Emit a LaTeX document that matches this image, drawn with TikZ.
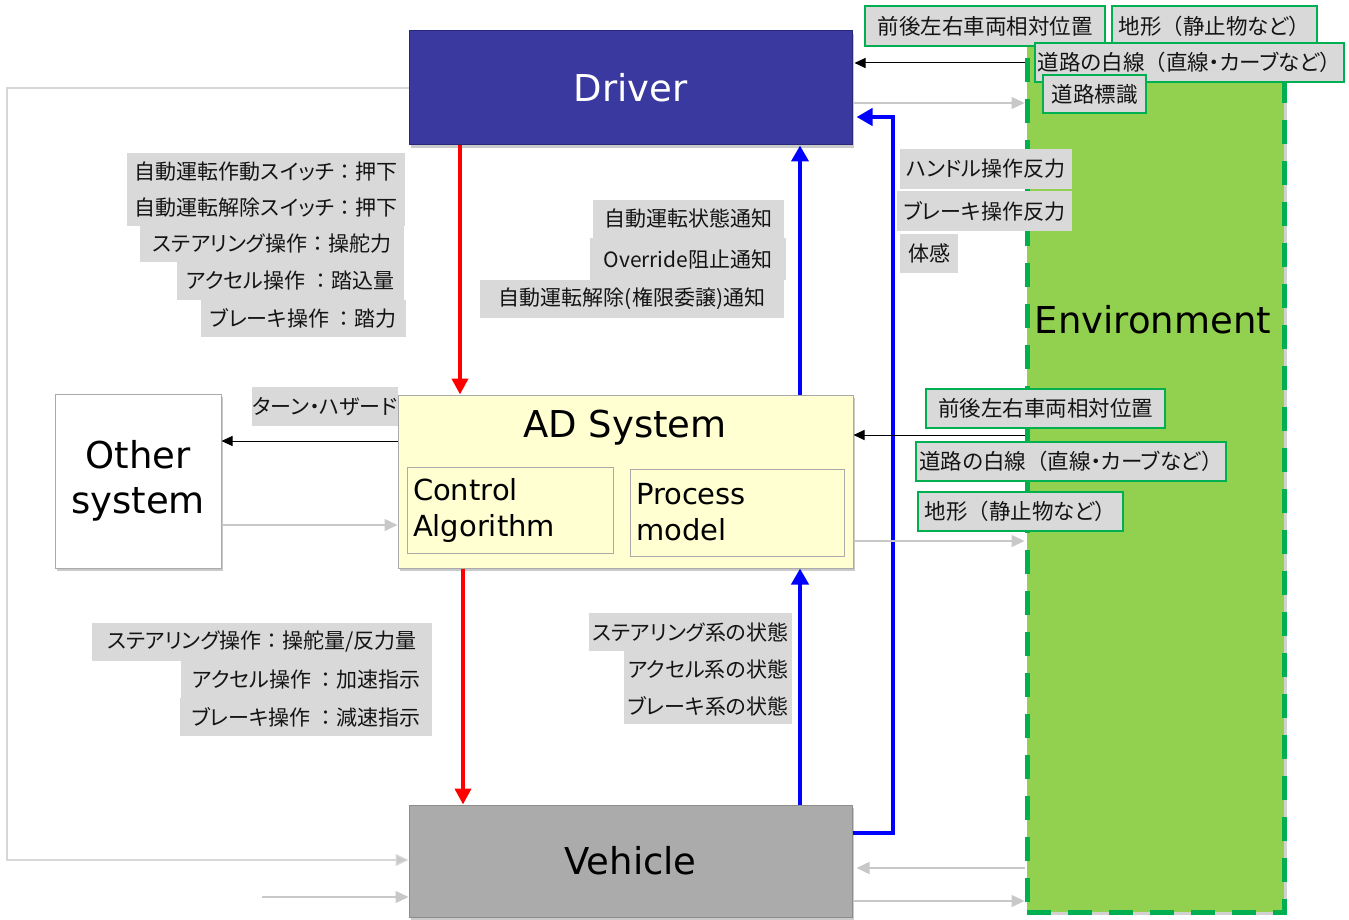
\documentclass[tikz,border=0pt]{standalone}
\usepackage{fontspec}
\setmainfont{DejaVu Sans}
\newfontfamily\jp[RawFeature=+palt]{Noto Sans CJK JP}
\newfontfamily\jpfull{Noto Sans CJK JP}
\newcommand\fw[1]{{\jpfull #1}}
\usetikzlibrary{arrows.meta,shadows}
\definecolor{driverblue}{RGB}{57,57,160}
\definecolor{driveredge}{RGB}{40,40,120}
\definecolor{adyellow}{RGB}{255,255,210}
\definecolor{vehgray}{RGB}{171,171,171}
\definecolor{envgreen}{RGB}{146,208,80}
\definecolor{dashgreen}{RGB}{0,176,80}
\definecolor{lblgray}{RGB}{217,217,217}
\definecolor{arrgray}{RGB}{200,200,200}
\definecolor{loopgray}{RGB}{215,215,215}
\definecolor{boxedge}{RGB}{170,170,170}
\definecolor{txt}{RGB}{20,20,20}
\tikzset{
  shad/.style={drop shadow={shadow xshift=2pt,shadow yshift=-3pt,opacity=.35,fill=black!60}},
  bigbox/.style={inner sep=0pt, font=\fontsize{37}{45}\selectfont, align=center, shad},
  innerbox/.style={draw=boxedge, line width=1pt, fill=adyellow, inner sep=6pt, align=left,
     font=\fontsize{29}{36}\selectfont, text=black},
  lbl/.style={fill=lblgray, inner sep=0pt, font=\jp\fontsize{21}{25}\selectfont, text=txt},
  glbl/.style={lbl, draw=dashgreen, line width=1.3pt, font=\jp\fontsize{21.5}{25}\selectfont},
  redarrow/.style={draw=red, line width=4pt, -{Triangle[length=16pt,width=16pt]}},
  bluearrow/.style={draw=blue, line width=4.5pt, -{Triangle[length=16pt,width=17pt]}},
  blackarrow/.style={draw=black, line width=1pt, -{Triangle[length=11pt,width=10pt]}},
  grayarrow/.style={draw=arrgray, line width=1.5pt, -{Triangle[length=13pt,width=12pt]}},
  looparrow/.style={draw=loopgray, line width=1.3pt, -{Triangle[length=13pt,width=12pt,fill=arrgray]}},
}
\begin{document}
\begin{tikzpicture}[x=1pt,y=-1pt]
\useasboundingbox (0,0) rectangle (1349,920);

% Environment
\node[draw=dashgreen, fill=envgreen, line width=5pt, dash pattern=on 24pt off 17pt,
      minimum width=257pt, minimum height=867pt, inner sep=0pt,
      drop shadow={shadow xshift=3pt,shadow yshift=-3pt,opacity=.3,fill=black!60}]
      (env) at (1155.5,478.5) {};
\node[font=\fontsize{37}{45}\selectfont, text=black] (envtxt) at (1153,320) {Environment};

% Main boxes
\node[bigbox, draw=driveredge, fill=driverblue, text=white, line width=1pt,
      minimum width=443pt, minimum height=114pt] (driver) at (630.5,88) {Driver};
\node[bigbox, draw=boxedge, fill=adyellow, line width=1pt,
      minimum width=455pt, minimum height=173pt] (ad) at (625.5,481.5) {};
\node[font=\fontsize{37}{45}\selectfont] (adtitle) at (625,428) {AD System};
\node[innerbox, minimum width=206pt, minimum height=86pt, text width=194pt] (ctrl) at (510,510) {Control\\Algorithm};
\node[innerbox, minimum width=214pt, minimum height=87pt, text width=202pt] (proc) at (737,512.5) {Process\\model};
\node[bigbox, draw=boxedge, fill=white, line width=1pt,
      minimum width=166pt, minimum height=174pt] (other) at (138,481) {Other\\system};
\node[bigbox, draw=black!45, fill=vehgray, line width=1pt,
      minimum width=443pt, minimum height=112pt] (vehicle) at (630.5,861) {Vehicle};

% helper coordinates
\coordinate (xr1) at (460,0);
\coordinate (xb1) at (800,0);
\coordinate (xr2) at (463,0);
\coordinate (xbl) at (893,0);
\coordinate (yl63) at (0,63);
\coordinate (yl103) at (0,103);
\coordinate (yl117) at (0,117);
\coordinate (yl833) at (0,833);
\coordinate (yl441) at (0,441);
\coordinate (yl525) at (0,525);
\coordinate (yl435) at (0,435);
\coordinate (yl541) at (0,541);
\coordinate (yl868) at (0,868);
\coordinate (yl901) at (0,901);
\coordinate (yl860) at (0,860);
\coordinate (lx) at (7,0);
\coordinate (gs) at (262,897);

% thick arrows
\draw[redarrow] (xr1 |- driver.south) -- (xr1 |- ad.north);
\draw[bluearrow] (xb1 |- ad.north) -- (xb1 |- driver.south);
\draw[redarrow] (xr2 |- ad.south) -- (xr2 |- vehicle.north);
\draw[bluearrow] (xb1 |- vehicle.north) -- (xb1 |- ad.south);
\draw[bluearrow] (vehicle.east |- yl833) -- (xbl |- yl833) -- (xbl |- yl117) -- ([xshift=4pt]driver.east |- yl117);

% thin arrows
\draw[blackarrow] (env.west |- yl63) -- ([xshift=2pt]driver.east |- yl63);
\draw[grayarrow] (driver.east |- yl103) -- (env.west |- yl103);
\draw[blackarrow] (ad.west |- yl441) -- (other.east |- yl441);
\draw[grayarrow] (other.east |- yl525) -- (ad.west |- yl525);
\draw[blackarrow] (env.west |- yl435) -- (ad.east |- yl435);
\draw[grayarrow] (ad.east |- yl541) -- (env.west |- yl541);
\draw[grayarrow] (env.west |- yl868) -- ([xshift=4pt]vehicle.east |- yl868);
\draw[grayarrow] (vehicle.east |- yl901) -- (env.west |- yl901);
\draw[looparrow] (driver.west) -- (lx |- driver.west) -- (lx |- yl860) -- (vehicle.west |- yl860);
\draw[grayarrow] (gs) -- (vehicle.west |- gs);

% labels: driver -> AD
\node[lbl, minimum width=278pt, minimum height=37pt] (l1) at (266,172) {自動運転作動スイッチ\fw{：}押下};
\node[lbl, minimum width=278pt, minimum height=36pt] (l2) at (266,208) {自動運転解除スイッチ\fw{：}押下};
\node[lbl, minimum width=264pt, minimum height=36pt] (l3) at (272,244) {ステアリング操作\fw{：}操舵力};
\node[lbl, minimum width=227pt, minimum height=38pt] (l4) at (290.5,281) {アクセル操作 \fw{：}踏込量};
\node[lbl, minimum width=205pt, minimum height=37pt] (l5) at (303.5,318.5) {ブレーキ操作 \fw{：}踏力};

% AD -> driver
\node[lbl, minimum width=191pt, minimum height=38pt] (m1) at (688.5,219) {自動運転状態通知};
\node[lbl, minimum width=196pt, minimum height=42pt] (m2) at (688,259) {Override阻止通知};
\node[lbl, minimum width=304pt, minimum height=38pt] (m3) at (632,299) {自動運転解除(権限委譲)通知};

% vehicle -> driver
\node[lbl, minimum width=172pt, minimum height=40pt] (r1) at (986,169) {ハンドル操作反力};
\node[lbl, minimum width=175pt, minimum height=40pt] (r2) at (984.5,211) {ブレーキ操作反力};
\node[lbl, minimum width=58pt, minimum height=39pt] (r3) at (929,253.5) {体感};

% AD -> other
\node[lbl, minimum width=146pt, minimum height=39pt] (tl) at (325,406.5) {ターン・ハザード};

% AD -> vehicle
\node[lbl, minimum width=340pt, minimum height=38pt] (b1) at (262,642) {ステアリング操作\fw{：}操舵量/反力量};
\node[lbl, minimum width=251pt, minimum height=37pt] (b2) at (306.5,679.5) {アクセル操作 \fw{：}加速指示};
\node[lbl, minimum width=252pt, minimum height=38pt] (b3) at (306,717) {ブレーキ操作 \fw{：}減速指示};

% vehicle -> AD
\node[lbl, minimum width=203pt, minimum height=38pt] (s1) at (690.5,632) {ステアリング系の状態};
\node[lbl, minimum width=168pt, minimum height=37pt] (s2) at (708,669.5) {アクセル系の状態};
\node[lbl, minimum width=168pt, minimum height=36pt] (s3) at (708,706) {ブレーキ系の状態};

% environment -> driver
\node[glbl, minimum width=240pt, minimum height=40pt] (g1) at (985,26) {前後左右車両相対位置};
\node[glbl, minimum width=205pt, minimum height=40pt] (g2) at (1214.5,26) {地形\fw{（}静止物など\fw{）}};
\node[glbl, minimum width=309pt, minimum height=39pt] (g3) at (1189.5,62.5) {道路の白線\fw{（}直線・カーブなど\fw{）}};
\node[glbl, minimum width=103pt, minimum height=38pt] (g4) at (1094.5,94) {道路標識};

% environment -> AD
\node[glbl, minimum width=239pt, minimum height=39pt] (e1) at (1045.5,408.5) {前後左右車両相対位置};
\node[glbl, minimum width=310pt, minimum height=39pt] (e2) at (1071,461.5) {道路の白線\fw{（}直線・カーブなど\fw{）}};
\node[glbl, minimum width=205pt, minimum height=39pt] (e3) at (1020.5,511.5) {地形\fw{（}静止物など\fw{）}};
\end{tikzpicture}
\end{document}
